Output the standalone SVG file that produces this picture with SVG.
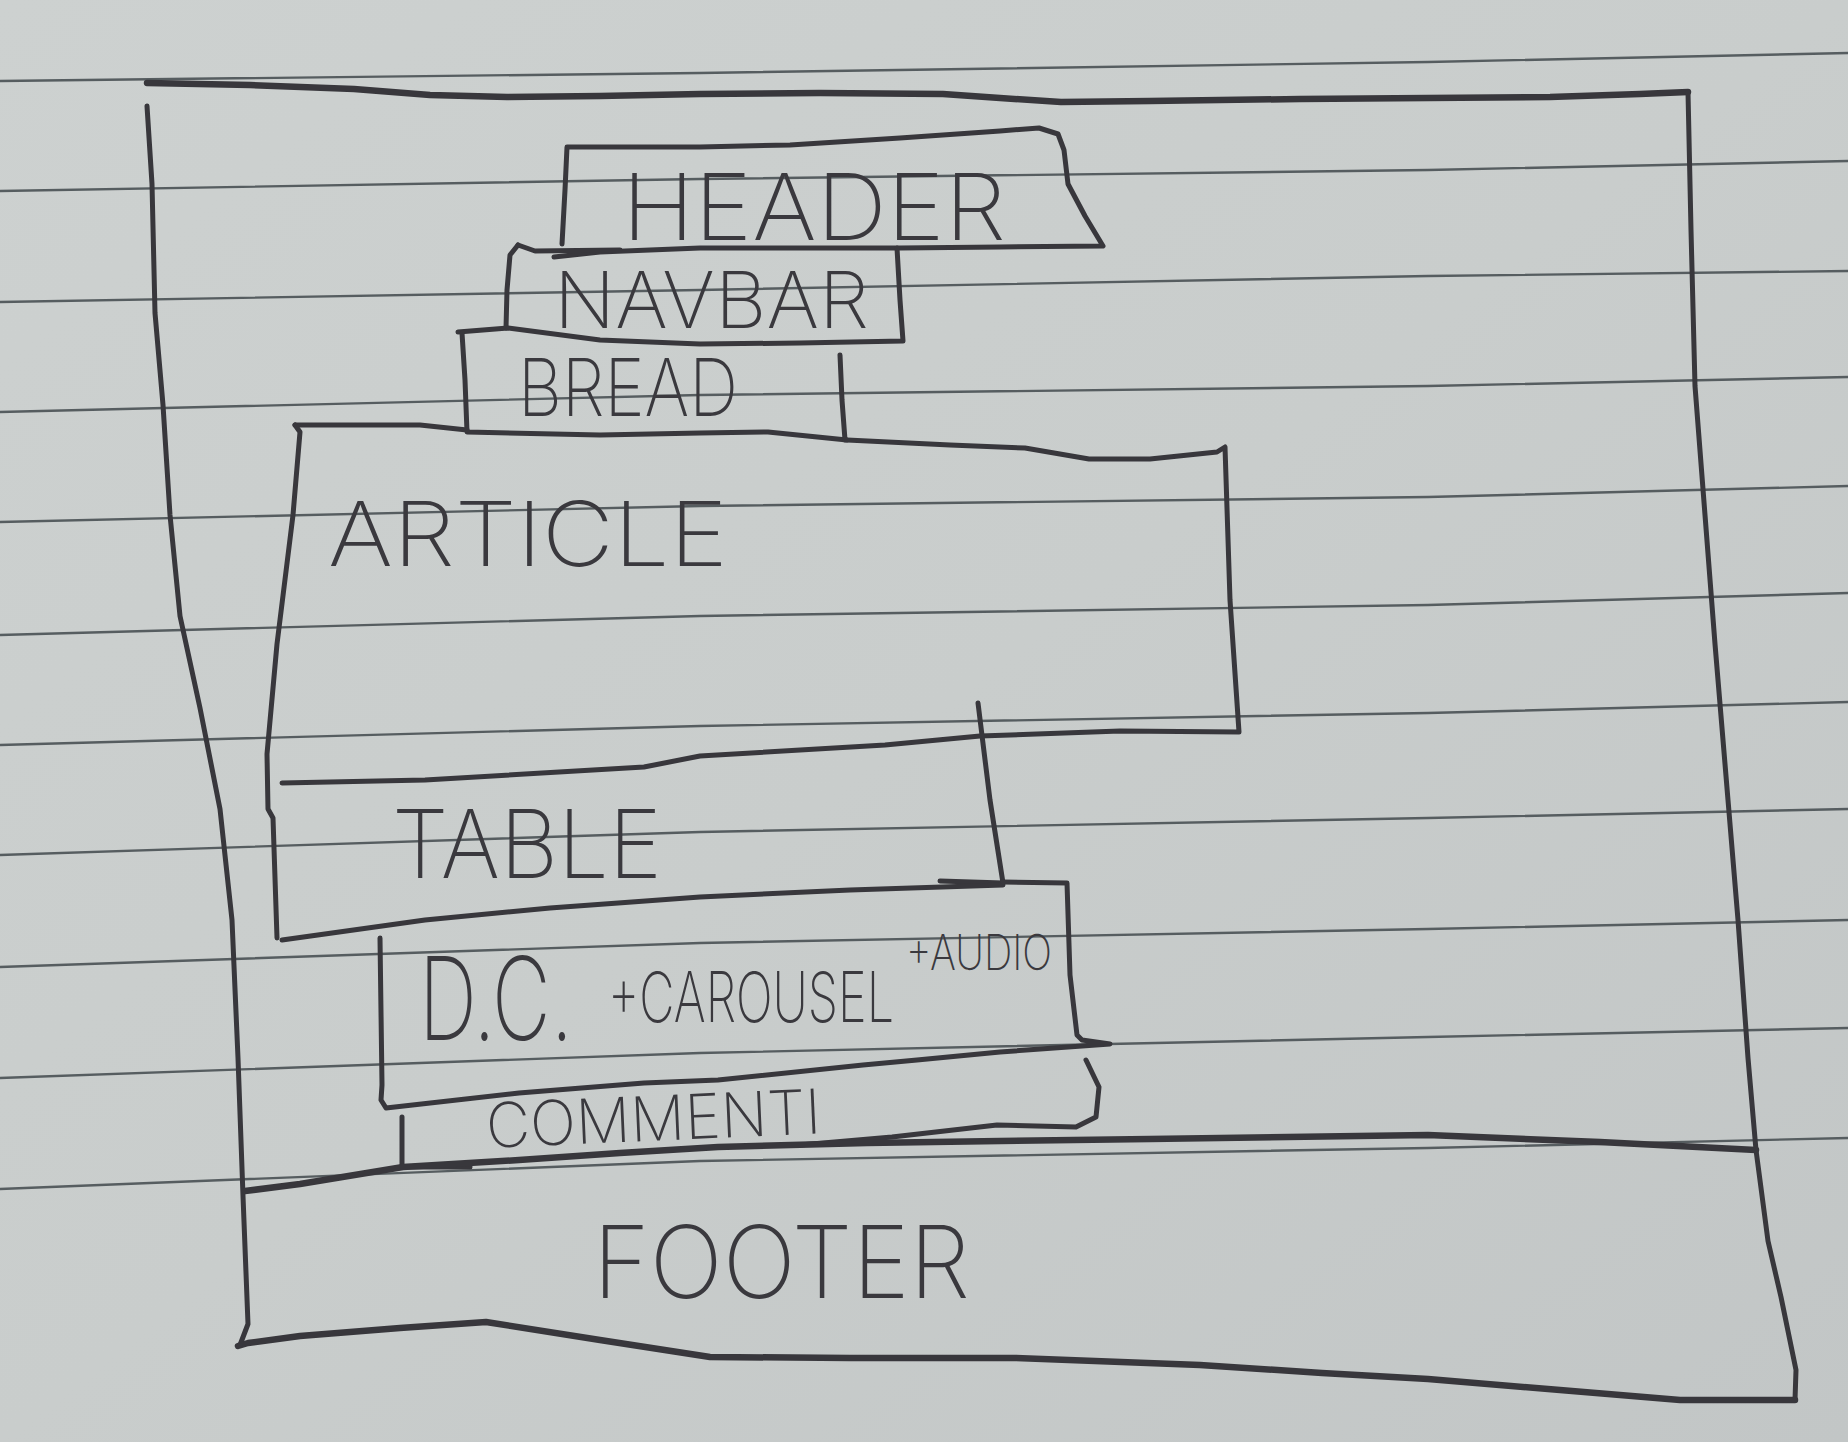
<svg xmlns="http://www.w3.org/2000/svg" width="1848" height="1442" viewBox="0 0 1848 1442">
<style>
.rule{fill:none;stroke:#565d60;stroke-width:2.4}
.pen{fill:none;stroke:#38373c;stroke-width:5;stroke-linecap:round;stroke-linejoin:round}
.thick{stroke-width:6.5}
.hand{font-family:Inter,"Open Sans","DejaVu Sans",sans-serif;font-weight:200;fill:#3a393e}
</style>
<defs>
<linearGradient id="paper" x1="0" y1="0" x2="1" y2="1">
<stop offset="0" stop-color="#cdd1d0"/>
<stop offset="0.5" stop-color="#c9cdcc"/>
<stop offset="1" stop-color="#c2c6c6"/>
</linearGradient>
</defs>
<rect x="0" y="0" width="1848" height="1442" fill="url(#paper)"/>
<g id="paper-rules">
<polyline class="rule" points="0,81 700,73 1428,62 1848,53"/>
<polyline class="rule" points="0,191 700,179 1428,170 1848,161"/>
<polyline class="rule" points="0,302 700,290 1428,276 1848,271"/>
<polyline class="rule" points="0,412 700,395 1428,386 1848,377"/>
<polyline class="rule" points="0,522 700,506 1428,497 1848,486"/>
<polyline class="rule" points="0,635 700,616 1428,605 1848,593"/>
<polyline class="rule" points="0,745 700,726 1428,713 1848,702"/>
<polyline class="rule" points="0,855 700,832 1428,818 1848,809"/>
<polyline class="rule" points="0,967 700,943 1428,929 1848,920"/>
<polyline class="rule" points="0,1078 700,1053 1428,1037 1848,1028"/>
<polyline class="rule" points="0,1189 700,1161 1428,1148 1848,1138"/>
</g>
<g id="page-frame">
<path class="pen thick" d="M147,83 L250,85 L354,89 L430,95 L507,97 L600,96 L700,94 L820,93 L943,94 L1000,98 L1061,102 L1150,101 L1300,99 L1428,98 L1550,97 L1640,94 L1688,92"/>
<path class="pen" d="M1688,92 L1691,230 L1695,386 L1705,515 L1715,644 L1728,800 L1738,920 L1748,1058 L1756,1150 L1768,1241 L1781,1297 L1796,1370 L1795,1400"/>
<path class="pen thick" d="M1795,1400 L1680,1400 L1560,1390 L1428,1379 L1322,1373 L1200,1365 L1016,1358 L850,1358 L710,1357 L600,1340 L486,1322 L400,1328 L300,1336 L248,1343 L238,1346"/>
<path class="pen" d="M147,106 L152,184 L155,313 L163,405 L170,515 L180,616 L200,708 L220,809 L232,920 L238,1058 L243,1196 L248,1324 L240,1345"/>
</g>
<g id="header">
<path class="pen" d="M562,244 L565,190 L567,147 L700,147 L790,145 L900,138 L1000,131 L1039,128 L1058,134 L1064,150 L1068,184 L1085,216 L1103,246 L1000,247 L900,248 L700,248 L600,252 L554,257"/>
<text class="hand" x="622" y="240" font-size="92" textLength="384" lengthAdjust="spacingAndGlyphs">HEADER</text>
</g>
<g id="navbar">
<path class="pen" d="M518,245 L510,255 L507,290 L506,328"/>
<path class="pen" d="M518,245 L535,251 L620,250"/>
<path class="pen" d="M897,248 L900,300 L903,341 L800,343 L700,344 L600,340 L508,328 L458,332"/>
<text class="hand" x="554" y="328" font-size="78" textLength="315" lengthAdjust="spacingAndGlyphs">NAVBAR</text>
</g>
<g id="bread">
<path class="pen" d="M462,333 L465,380 L467,432 L600,435 L700,433 L768,432 L847,440"/>
<path class="pen" d="M840,355 L842,400 L845,440"/>
<text class="hand" x="518" y="416" font-size="80" textLength="220" lengthAdjust="spacingAndGlyphs">BREAD</text>
</g>
<g id="article">
<path class="pen" d="M295,425 L420,425 L467,430"/>
<path class="pen" d="M295,425 L300,432 L293,515 L277,644 L267,754 L268,809 L273,818 L277,938"/>
<path class="pen" d="M847,440 L950,445 L1025,448 L1089,459 L1150,459 L1217,452 L1225,447 L1230,600 L1239,732 L1120,731 L980,736 L885,745 L700,756 L644,767 L425,780 L282,783"/>
<text class="hand" x="328" y="566" font-size="90" textLength="400" lengthAdjust="spacingAndGlyphs">ARTICLE</text>
</g>
<g id="table">
<path class="pen" d="M978,703 L990,800 L1003,883 L940,881"/>
<path class="pen" d="M1003,885 L850,890 L700,897 L550,908 L425,920 L282,940"/>
<text class="hand" x="392" y="878" font-size="95" textLength="270" lengthAdjust="spacingAndGlyphs">TABLE</text>
</g>
<g id="dc-carousel-audio">
<path class="pen" d="M1003,882 L1067,883 L1070,975 L1077,1035 L1082,1040 L1110,1044 L1000,1052 L917,1060 L863,1065 L718,1080 L644,1083 L519,1093 L386,1108 L381,1100 L382,1085 L380,938"/>
<text class="hand" transform="matrix(1 0 0 1.45 0 -468)"><tspan x="419" y="1040" font-size="80" textLength="154" lengthAdjust="spacingAndGlyphs">D.C.</tspan><tspan x="608" y="1027.6" font-size="48" textLength="286" lengthAdjust="spacingAndGlyphs">+CAROUSEL</tspan><tspan x="906" y="991.7" font-size="34" textLength="146" lengthAdjust="spacingAndGlyphs">+AUDIO</tspan></text>
</g>
<g id="commenti">
<path class="pen" d="M1086,1060 L1099,1087 L1096,1117 L1076,1127 L997,1125 L892,1137 L800,1145"/>
<path class="pen" d="M402,1117 L402,1167 L470,1167"/>
<text class="hand" x="487" y="1148" font-size="62" textLength="335" lengthAdjust="spacingAndGlyphs" transform="rotate(-2.5 487 1148)">COMMENTI</text>
</g>
<g id="footer">
<path class="pen thick" d="M245,1191 L300,1184 L403,1167 L519,1160 L620,1153 L718,1147 L867,1143 L1000,1141 L1150,1139 L1428,1135 L1600,1142 L1756,1150"/>
<text class="hand" x="593" y="1298" font-size="100" textLength="377" lengthAdjust="spacingAndGlyphs">FOOTER</text>
</g>
<g id="connectors"/>
</svg>
